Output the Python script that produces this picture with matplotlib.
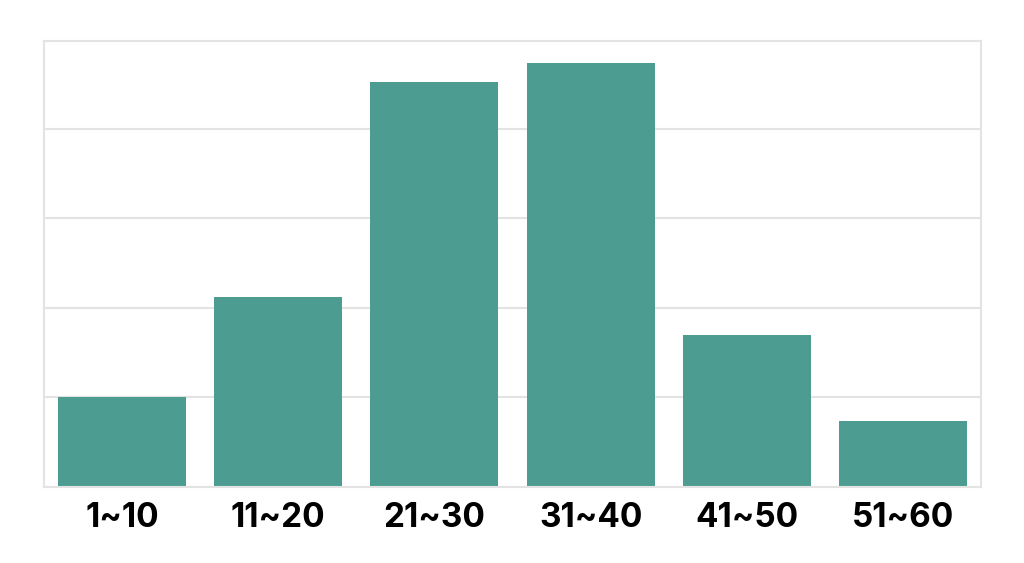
import matplotlib.pyplot as plt

# 分组与数量
categories = ["1~10", "11~20", "21~30", "31~40", "41~50", "51~60"]
counts = [10, 21.2, 45.2, 47.3, 17.0, 7.4]

bar_color = "#4c9c91"
grid_color = "#e3e3e3"

fig = plt.figure(figsize=(10.24, 5.63), dpi=100)
ax = fig.add_axes([0.043, 0.135, 0.915, 0.792])

ax.bar(range(len(categories)), counts, width=0.82, color=bar_color, zorder=2)

ax.set_xlim(-0.5, len(categories) - 0.5)
ax.set_ylim(0, 49.8)
ax.set_yticks([10, 20, 30, 40])
ax.yaxis.grid(True, color=grid_color, linewidth=1.5, zorder=0)
ax.tick_params(axis="y", length=0, labelleft=False)

ax.set_xticks(range(len(categories)))
ax.set_xticklabels(categories, fontsize=24, fontweight="bold", family="Inter")
ax.tick_params(axis="x", length=0, pad=11, colors="#000000")

for s in ax.spines.values():
    s.set_color(grid_color)
    s.set_linewidth(1.5)

fig.savefig("out.png", dpi=100)
